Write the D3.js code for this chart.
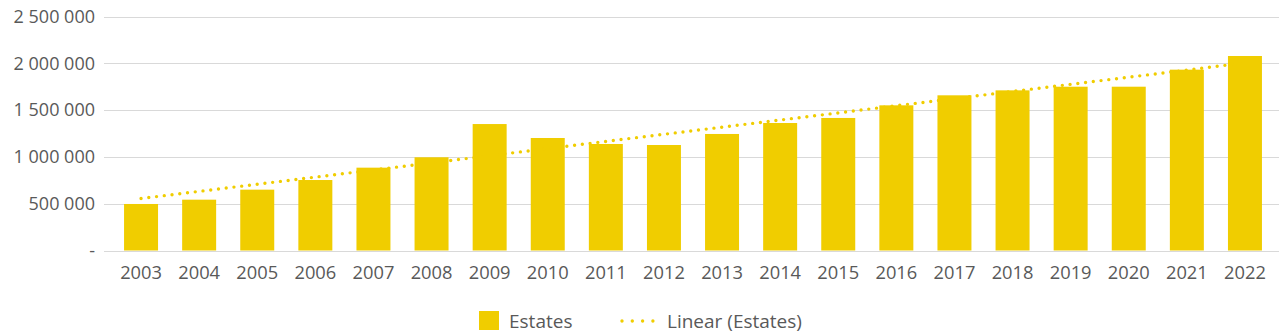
<!DOCTYPE html>
<html>
<head>
<meta charset="utf-8">
<script src="https://cdn.jsdelivr.net/npm/d3@7"></script>
<style>
  html, body { margin: 0; padding: 0; background: #fff; }
  svg { display: block; font-family: "Open Sans", sans-serif; }
</style>
</head>
<body>
<svg id="chart" width="1280" height="336"></svg>
<script>
// Estates per year
const years = ["2003","2004","2005","2006","2007","2008","2009","2010","2011","2012",
               "2013","2014","2015","2016","2017","2018","2019","2020","2021","2022"];
const estates = [497000, 543000, 650000, 753000, 885000, 996000, 1351000, 1202000, 1138000, 1127000,
                 1245000, 1362000, 1416000, 1551000, 1658000, 1711000, 1750000, 1750000, 1932000, 2078000];
const yTicks = [0, 500000, 1000000, 1500000, 2000000, 2500000];

const barColor = "#F0CD00";
const textColor = "#595959";
const gridColor = "#D9D9D9";

const svg = d3.select("#chart");

const x = d3.scaleBand().domain(years).range([112, 1274]).paddingInner(0.415).paddingOuter(0.2075);
const y = d3.scaleLinear().domain([0, 2500000]).range([250.5, 16.5]);

const fmt = v => v === 0 ? "-" : d3.format(",")(v).replace(/,/g, " ");

// horizontal gridlines
svg.append("g").selectAll("line").data(yTicks).join("line")
  .attr("x1", 104).attr("x2", 1279)
  .attr("y1", d => Math.round(y(d)) + 0.5).attr("y2", d => Math.round(y(d)) + 0.5)
  .attr("stroke", gridColor).attr("stroke-width", 1);

// y axis labels
const yAxis = d3.axisLeft(y).tickValues(yTicks).tickFormat(fmt).tickSize(0).tickPadding(0);
svg.append("g").attr("transform", "translate(95,0)").call(yAxis)
  .call(g => g.select(".domain").remove())
  .call(g => g.selectAll("text").attr("fill", textColor).style("font-size", "18px")
                .style("font-family", "'Open Sans', sans-serif"));

// bars
svg.append("g").selectAll("rect").data(estates).join("rect")
  .attr("x", (d, i) => x(years[i]))
  .attr("width", x.bandwidth())
  .attr("y", d => y(d))
  .attr("height", d => y(0) - y(d))
  .attr("fill", barColor);

// x axis labels
const xAxis = d3.axisBottom(x).tickSize(0).tickPadding(0);
svg.append("g").attr("transform", "translate(0,266)").call(xAxis)
  .call(g => g.select(".domain").remove())
  .call(g => g.selectAll("text").attr("fill", textColor).style("font-size", "18.3px")
                .style("font-family", "'Open Sans', sans-serif"));

// least-squares linear trend
const idx = estates.map((_, i) => i);
const mx = d3.mean(idx), my = d3.mean(estates);
const slope = d3.sum(idx, i => (i - mx) * (estates[i] - my)) / d3.sum(idx, i => (i - mx) ** 2);
const intercept = my - slope * mx;
const trend = idx.map(i => intercept + slope * i);

const line = d3.line()
  .x((d, i) => x(years[i]) + x.bandwidth() / 2)
  .y(d => y(d));

svg.append("path").datum(trend)
  .attr("d", line)
  .attr("fill", "none")
  .attr("stroke", barColor)
  .attr("stroke-width", 3.4)
  .attr("stroke-linecap", "round")
  .attr("stroke-dasharray", "0 7.8");

// legend
const legend = svg.append("g");
legend.append("rect").attr("x", 479).attr("y", 311).attr("width", 20).attr("height", 19).attr("fill", barColor);
legend.append("text").attr("x", 509).attr("y", 328).text("Estates")
  .attr("fill", textColor).style("font-size", "19px");
legend.append("line").attr("x1", 622).attr("x2", 654).attr("y1", 321).attr("y2", 321)
  .attr("stroke", barColor).attr("stroke-width", 3.4)
  .attr("stroke-linecap", "round").attr("stroke-dasharray", "0 10.3");
legend.append("text").attr("x", 667).attr("y", 328).text("Linear (Estates)")
  .attr("fill", textColor).style("font-size", "19px");
</script>
</body>
</html>
